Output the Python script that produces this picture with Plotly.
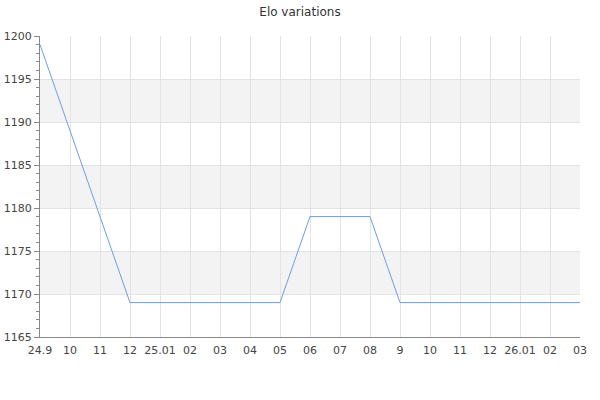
import plotly.graph_objects as go

tick_labels = ["24.9", "10", "11", "12", "25.01", "02", "03", "04", "05", "06",
               "07", "08", "9", "10", "11", "12", "26.01", "02", "03"]
elo = [1199, 1189, 1179, 1169, 1169, 1169, 1169, 1169, 1169, 1179,
       1179, 1179, 1169, 1169, 1169, 1169, 1169, 1169, 1169]
bands = [(1170, 1175), (1180, 1185), (1190, 1195)]

x = list(range(len(tick_labels)))

fig = go.Figure()
fig.add_trace(go.Scatter(x=x, y=elo, mode="lines",
                         line=dict(color="#6f9be8", width=1),
                         hoverinfo="skip", showlegend=False))

for lo, hi in bands:
    fig.add_shape(type="rect", xref="x", yref="y", x0=0, x1=len(x) - 1,
                  y0=lo, y1=hi, fillcolor="#f3f3f3", line=dict(width=0),
                  layer="below")

font = "DejaVu Sans, Verdana, sans-serif"
fig.update_layout(
    width=600, height=400,
    margin=dict(l=40, r=20, t=36, b=63, autoexpand=False),
    paper_bgcolor="white", plot_bgcolor="white",
    title=dict(text="Elo variations", x=0.5, xanchor="center", y=0.97, yanchor="middle",
               automargin=False,
               font=dict(family=font, size=12, color="#333333")),
    font=dict(family=font, size=11, color="#444444"),
    xaxis=dict(range=[0, len(x) - 1], tickmode="array", tickvals=x, ticktext=tick_labels,
               automargin=False, ticklabelstandoff=3,
               showgrid=True, gridcolor="#e3e3e3", gridwidth=1,
               showline=True, linecolor="#888888", linewidth=1,
               ticks="", zeroline=False, tickfont=dict(size=11, color="#444444")),
    yaxis=dict(range=[1165, 1200], dtick=5, tick0=1165, automargin=False,
               showgrid=True, gridcolor="#e3e3e3", gridwidth=1,
               showline=True, linecolor="#888888", linewidth=1,
               ticks="outside", ticklen=5, tickcolor="#888888", zeroline=False,
               minor=dict(ticks="outside", dtick=1, ticklen=3, tickcolor="#888888", showgrid=False),
               tickfont=dict(size=11, color="#444444")),
)

fig.write_html("out.html", config={"displayModeBar": False, "staticPlot": True},
               post_script="document.body.style.margin='0';document.body.style.overflow='hidden';")
